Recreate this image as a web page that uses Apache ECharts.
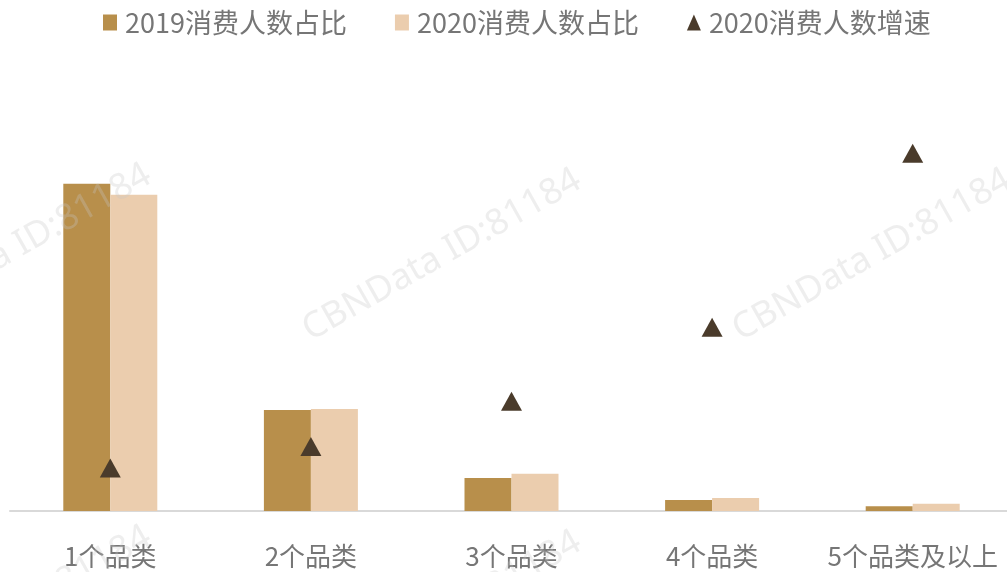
<!DOCTYPE html>
<html>
<head>
<meta charset="utf-8">
<script src="https://cdn.jsdelivr.net/npm/echarts@6/dist/echarts.min.js"></script>
<style>
html, body { margin: 0; padding: 0; background: #fff; }
#main { width: 1007px; height: 572px; }
</style>
</head>
<body>
<div id="main"></div>
<script>
// categories and values
var categories = ['1个品类', '2个品类', '3个品类', '4个品类', '5个品类及以上'];
var share2019 = [68.6, 21.2, 6.9, 2.3, 1.0];
var share2020 = [66.3, 21.4, 7.8, 2.7, 1.5];
var growth2020 = [18, 27, 46, 77, 150];

var font = '"Noto Sans CJK SC", "Noto Sans", sans-serif';
var textColor = '#767676';

// faint watermark, repeated
var marks = [];
var spots = [[12, 250], [442, 255], [872, 255], [12, 612], [442, 617]];
for (var i = 0; i < spots.length; i++) {
	marks.push({
		type: 'text',
		x: spots[i][0], y: spots[i][1],
		rotation: Math.PI * 29.5 / 180,
		silent: true,
		z: 100,
		style: {
			text: 'CBNData ID:81184',
			font: '36px "Noto Sans", sans-serif',
			fill: 'rgba(200,200,200,0.3)',
			align: 'center',
			verticalAlign: 'middle'
		}
	});
}

var chart = echarts.init(document.getElementById('main'));
chart.setOption({
	animation: false,
	textStyle: { fontFamily: font },
	legend: {
		top: 4,
		left: 98,
		itemGap: 48,
		itemWidth: 14,
		itemHeight: 16,
		textStyle: { fontSize: 27, color: textColor, fontFamily: font, padding: [0, 0, 0, 3] },
		data: [
			{ name: '2019消费人数占比', icon: 'rect' },
			{ name: '2020消费人数占比', icon: 'rect' },
			{ name: '2020消费人数增速', icon: 'triangle' }
		]
	},
	grid: { left: 10, right: -6, top: 34, bottom: 61, outerBoundsMode: 'none' },
	xAxis: {
		type: 'category',
		data: categories,
		axisLine: { lineStyle: { color: '#d9d9d9', width: 2 } },
		axisTick: { show: false },
		axisLabel: { fontSize: 26, color: textColor, margin: 32, interval: 0, fontFamily: font }
	},
	yAxis: [
		{ type: 'value', min: 0, max: 100, show: false, splitLine: { show: false } },
		{ type: 'value', min: 0, max: 200, show: false, splitLine: { show: false } }
	],
	series: [
		{
			name: '2019消费人数占比',
			type: 'bar',
			data: share2019,
			barWidth: 47,
			barGap: '0%',
			itemStyle: { color: '#B88F4B' }
		},
		{
			name: '2020消费人数占比',
			type: 'bar',
			data: share2020,
			barWidth: 47,
			itemStyle: { color: '#EBCDAE' }
		},
		{
			name: '2020消费人数增速',
			type: 'scatter',
			yAxisIndex: 1,
			data: growth2020,
			symbol: 'triangle',
			symbolSize: [21, 19],
			itemStyle: { color: '#4A3B2B', opacity: 1 },
			z: 5
		}
	],
	graphic: marks
});
</script>
</body>
</html>
